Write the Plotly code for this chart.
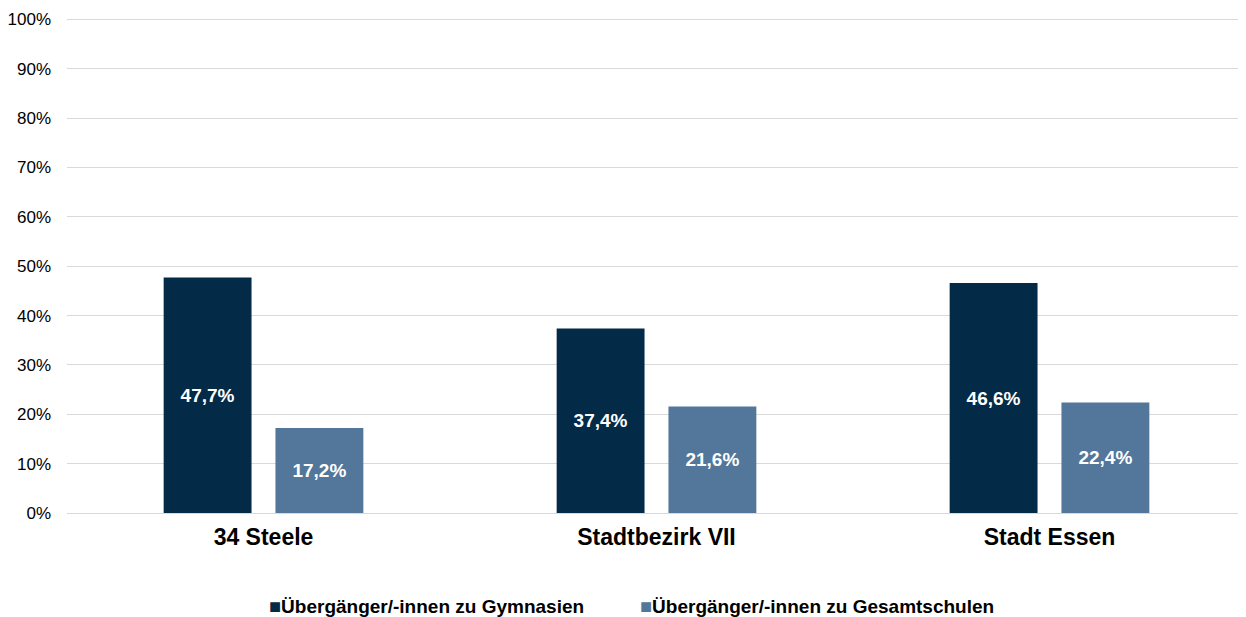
import plotly.graph_objects as go

categories = ["34 Steele", "Stadtbezirk VII", "Stadt Essen"]
gymnasien = [47.7, 37.4, 46.6]
gesamtschulen = [17.2, 21.6, 22.4]
series_names = ["Übergänger/-innen zu Gymnasien", "Übergänger/-innen zu Gesamtschulen"]
colors = ["#032A47", "#52779A"]
tick_vals = [0, 10, 20, 30, 40, 50, 60, 70, 80, 90, 100]
tick_text = [f"{v}%" for v in tick_vals]

def fmt(v):
    return f"{v:.1f}".replace(".", ",") + "%"

FONT = "Liberation Sans, Arial"
W, H = 1238, 609          # page body has an 8px margin
L, T, B = 59, 10, 104
PW = W - L
PH = H - T - B

fig = go.Figure()
for name, vals, col in zip(series_names, [gymnasien, gesamtschulen], colors):
    fig.add_trace(go.Bar(
        x=categories, y=vals, name=name,
        marker=dict(color=col, line=dict(width=0)),
        text=[fmt(v) for v in vals],
        textposition="inside", insidetextanchor="middle",
        textfont=dict(family=FONT, size=19, color="white", weight="bold"),
        textangle=0, showlegend=False,
    ))

# custom legend (symbol right next to text, as in the reference)
legend_x = [418, 809]
for name, col, lx in zip(series_names, colors, legend_x):
    fig.add_annotation(
        xref="paper", yref="paper",
        x=(lx - L) / PW, y=-(598 - (T + PH)) / PH,
        xanchor="center", yanchor="middle", showarrow=False,
        text=f"<span style='color:{col};font-size:20px'>■</span><b>{name}</b>",
        font=dict(family=FONT, size=19, color="#000000"),
    )

fig.update_layout(
    width=W, height=H,
    margin=dict(l=L, r=0, t=T, b=B, autoexpand=False),
    paper_bgcolor="white", plot_bgcolor="white",
    barmode="group", bargap=0.431, bargroupgap=0.214,
    font=dict(family=FONT, color="#000000"),
    uniformtext=dict(mode="show", minsize=19),
    showlegend=False,
    xaxis=dict(tickfont=dict(size=23, weight="bold"), showgrid=False, showline=False,
               ticks="", ticklabelstandoff=8, automargin=False),
    yaxis=dict(range=[0, 100.3], tickvals=tick_vals, ticktext=tick_text,
               tickfont=dict(size=17), showgrid=True, gridcolor="#D9D9D9", gridwidth=1,
               zeroline=True, zerolinecolor="#D9D9D9", zerolinewidth=1,
               ticks="", ticklabelstandoff=15, showline=False, automargin=False),
)

fig.write_html("out.html")
